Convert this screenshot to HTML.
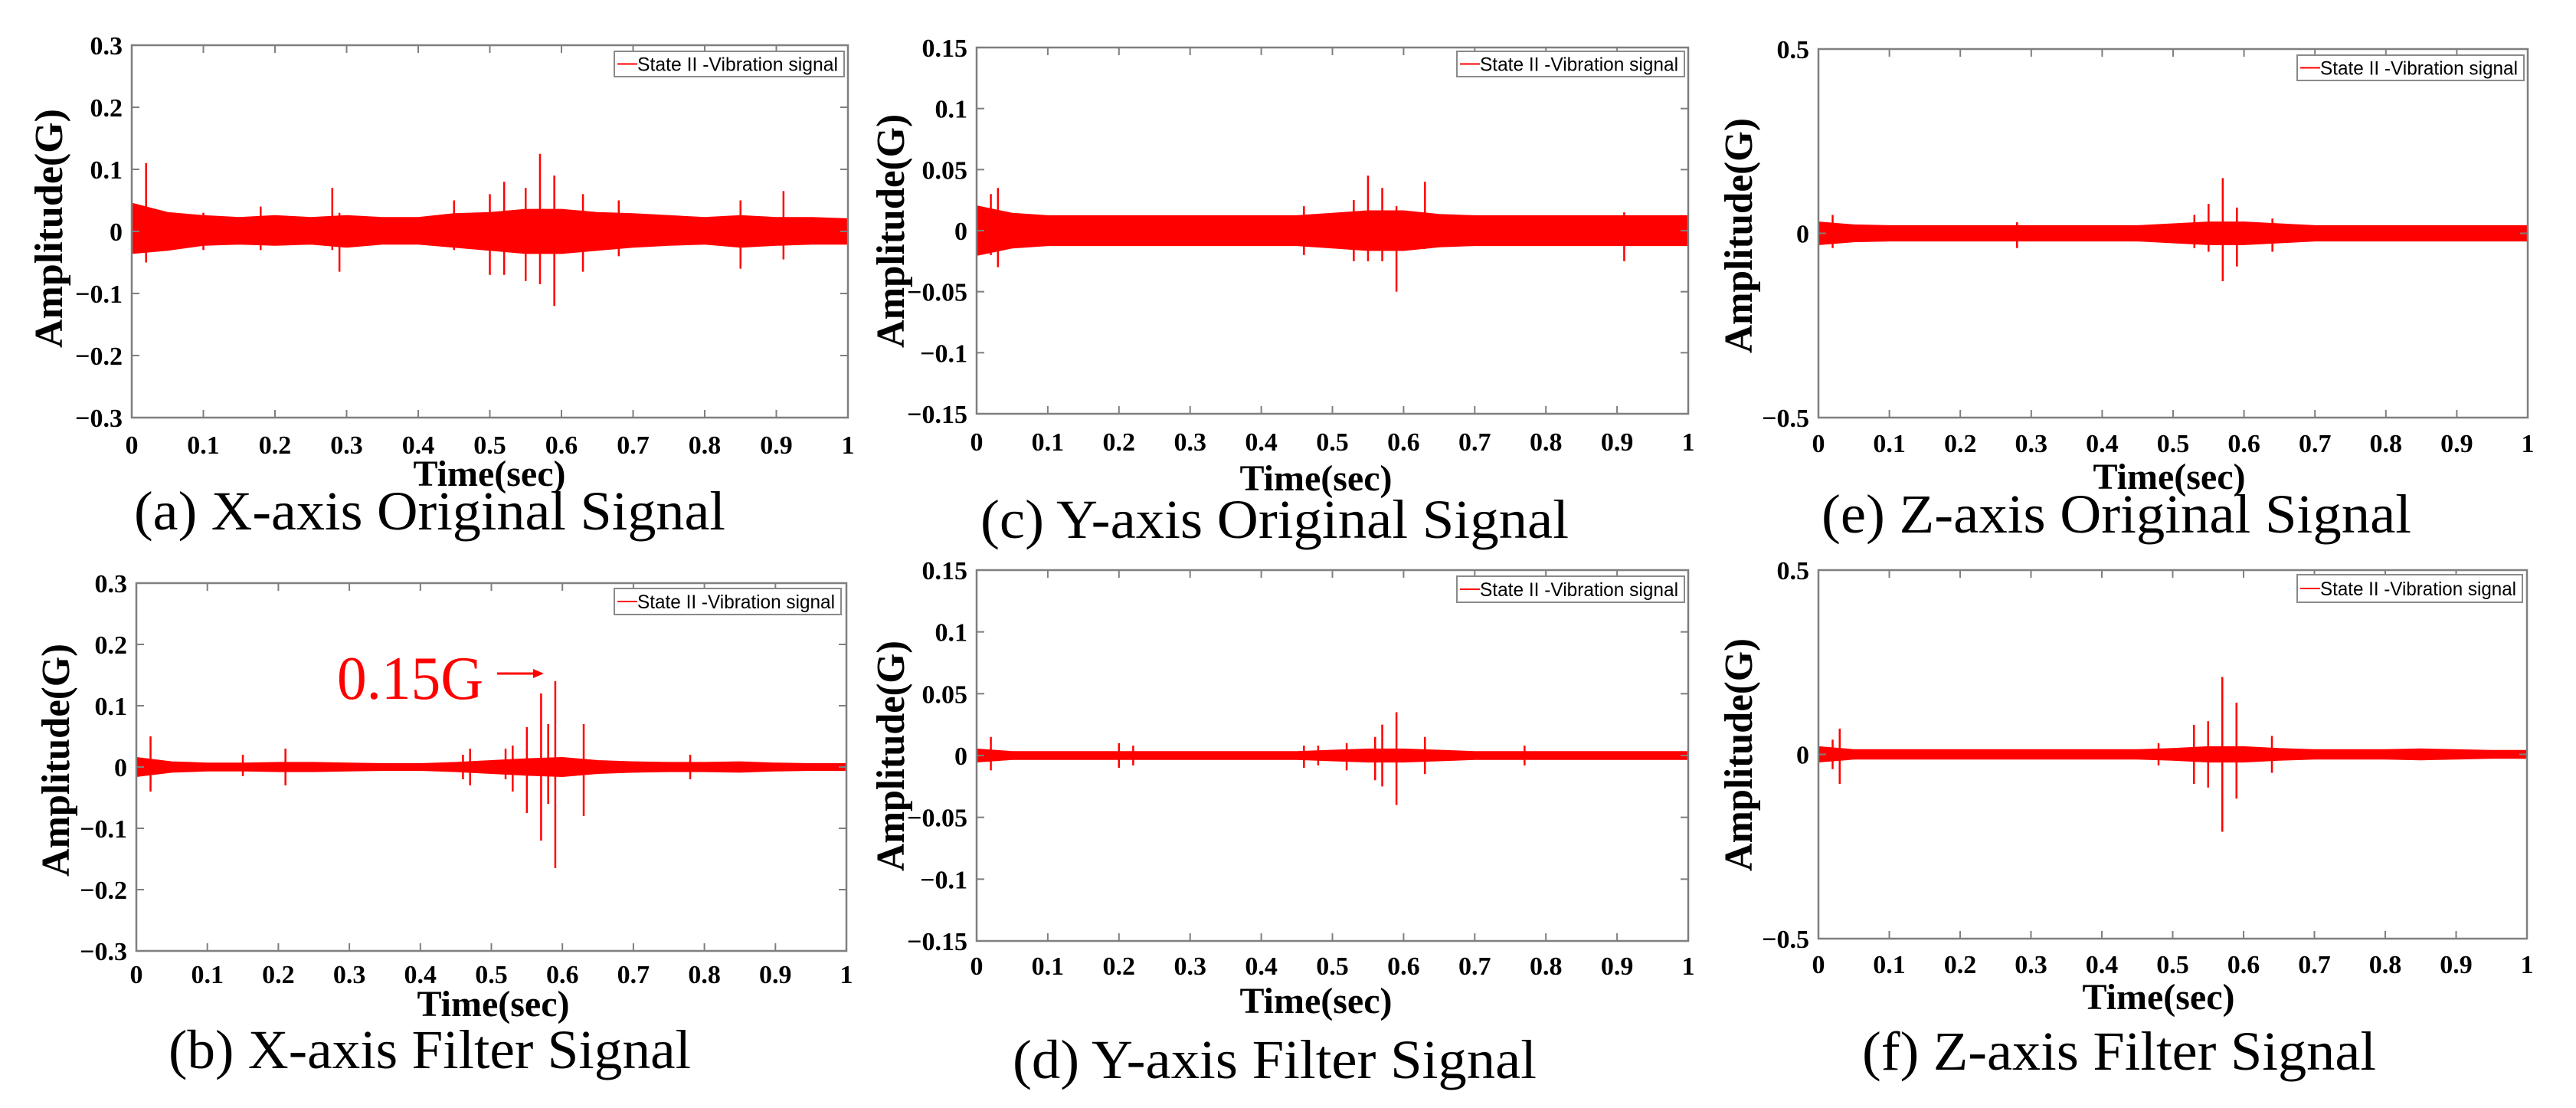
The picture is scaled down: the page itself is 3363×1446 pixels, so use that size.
<!DOCTYPE html>
<html><head><meta charset="utf-8">
<style>
html,body{margin:0;padding:0;background:#fff;}
svg{display:block;}
</style></head>
<body>
<svg id="fig" width="3363" height="1446" viewBox="0 0 3363 1446" xmlns="http://www.w3.org/2000/svg"></svg>
<script>
// ---- shared axis data ----
const xTicks = [0,0.1,0.2,0.3,0.4,0.5,0.6,0.7,0.8,0.9,1];
const xTickLabels = ['0','0.1','0.2','0.3','0.4','0.5','0.6','0.7','0.8','0.9','1'];
const envT = [0,0.05,0.1,0.15,0.2,0.25,0.3,0.35,0.4,0.45,0.5,0.55,0.6,0.65,0.7,0.75,0.8,0.85,0.9,0.95,1];
const yTicksX = [0.3,0.2,0.1,0,-0.1,-0.2,-0.3];
const yTickLabelsX = ['0.3','0.2','0.1','0','\u22120.1','\u22120.2','\u22120.3'];
const yTicksY = [0.15,0.1,0.05,0,-0.05,-0.1,-0.15];
const yTickLabelsY = ['0.15','0.1','0.05','0','\u22120.05','\u22120.1','\u22120.15'];
const yTicksZ = [0.5,0,-0.5];
const yTickLabelsZ = ['0.5','0','\u22120.5'];

// ---- (a) X original ----
const envHiA = [0.045,0.03,0.025,0.022,0.025,0.022,0.025,0.022,0.022,0.028,0.03,0.035,0.035,0.03,0.028,0.025,0.022,0.025,0.022,0.022,0.02];
const envLoA = [-0.035,-0.03,-0.022,-0.02,-0.022,-0.02,-0.025,-0.02,-0.02,-0.025,-0.03,-0.035,-0.035,-0.03,-0.025,-0.022,-0.02,-0.025,-0.022,-0.02,-0.02];
const spikeTA = [0.02,0.1,0.18,0.28,0.29,0.45,0.5,0.52,0.55,0.57,0.59,0.63,0.68,0.85,0.91];
const spikeHiA = [0.11,0.03,0.04,0.07,0.03,0.05,0.06,0.08,0.07,0.125,0.09,0.06,0.05,0.05,0.065];
const spikeLoA = [-0.05,-0.03,-0.03,-0.03,-0.065,-0.03,-0.07,-0.07,-0.08,-0.085,-0.12,-0.065,-0.04,-0.06,-0.045];
// ---- (b) X filter ----
const envHiB = [0.015,0.008,0.006,0.006,0.007,0.007,0.006,0.005,0.005,0.007,0.01,0.013,0.015,0.01,0.008,0.007,0.007,0.008,0.006,0.005,0.005];
const envLoB = [-0.015,-0.008,-0.006,-0.006,-0.007,-0.007,-0.006,-0.005,-0.005,-0.007,-0.01,-0.013,-0.015,-0.01,-0.008,-0.007,-0.007,-0.008,-0.006,-0.005,-0.005];
const spikeTB = [0.02,0.15,0.21,0.46,0.47,0.52,0.53,0.55,0.57,0.58,0.59,0.63,0.78];
const spikeHiB = [0.05,0.02,0.03,0.02,0.03,0.03,0.035,0.065,0.12,0.07,0.14,0.07,0.02];
const spikeLoB = [-0.04,-0.015,-0.03,-0.02,-0.03,-0.02,-0.04,-0.075,-0.12,-0.06,-0.165,-0.08,-0.02];
// ---- (c) Y original ----
const envHiC = [0.02,0.014,0.012,0.012,0.012,0.012,0.012,0.012,0.012,0.012,0.014,0.016,0.016,0.013,0.012,0.012,0.012,0.012,0.012,0.012,0.012];
const envLoC = [-0.02,-0.014,-0.012,-0.012,-0.012,-0.012,-0.012,-0.012,-0.012,-0.012,-0.014,-0.016,-0.016,-0.013,-0.012,-0.012,-0.012,-0.012,-0.012,-0.012,-0.012];
const spikeTC = [0.02,0.03,0.46,0.53,0.55,0.57,0.59,0.63,0.91];
const spikeHiC = [0.03,0.035,0.02,0.025,0.045,0.035,0.02,0.04,0.015];
const spikeLoC = [-0.02,-0.03,-0.02,-0.025,-0.025,-0.025,-0.05,-0.015,-0.025];
// ---- (d) Y filter ----
const envHiD = [0.005,0.003,0.003,0.003,0.003,0.003,0.003,0.003,0.003,0.003,0.004,0.005,0.005,0.004,0.003,0.003,0.003,0.003,0.003,0.003,0.003];
const envLoD = [-0.005,-0.003,-0.003,-0.003,-0.003,-0.003,-0.003,-0.003,-0.003,-0.003,-0.004,-0.005,-0.005,-0.004,-0.003,-0.003,-0.003,-0.003,-0.003,-0.003,-0.003];
const spikeTD = [0.02,0.2,0.22,0.46,0.48,0.52,0.56,0.57,0.59,0.63,0.77];
const spikeHiD = [0.015,0.01,0.008,0.008,0.008,0.01,0.015,0.025,0.035,0.015,0.008];
const spikeLoD = [-0.012,-0.01,-0.008,-0.01,-0.008,-0.012,-0.02,-0.025,-0.04,-0.015,-0.008];
// ---- (e) Z original ----
const envHiE = [0.03,0.022,0.02,0.02,0.02,0.02,0.02,0.02,0.02,0.02,0.025,0.03,0.03,0.025,0.02,0.02,0.02,0.02,0.02,0.02,0.02];
const envLoE = [-0.03,-0.022,-0.02,-0.02,-0.02,-0.02,-0.02,-0.02,-0.02,-0.02,-0.025,-0.03,-0.03,-0.025,-0.02,-0.02,-0.02,-0.02,-0.02,-0.02,-0.02];
const spikeTE = [0.02,0.28,0.53,0.55,0.57,0.59,0.64];
const spikeHiE = [0.05,0.03,0.05,0.08,0.15,0.07,0.04];
const spikeLoE = [-0.04,-0.04,-0.04,-0.05,-0.13,-0.09,-0.05];
// ---- (f) Z filter ----
const envHiF = [0.02,0.012,0.012,0.012,0.012,0.012,0.012,0.012,0.012,0.012,0.015,0.02,0.02,0.015,0.012,0.012,0.012,0.014,0.012,0.01,0.01];
const envLoF = [-0.02,-0.012,-0.012,-0.012,-0.012,-0.012,-0.012,-0.012,-0.012,-0.012,-0.015,-0.02,-0.02,-0.015,-0.012,-0.012,-0.012,-0.014,-0.012,-0.01,-0.01];
const spikeTF = [0.02,0.03,0.48,0.53,0.55,0.57,0.59,0.64];
const spikeHiF = [0.04,0.07,0.03,0.08,0.09,0.21,0.14,0.05];
const spikeLoF = [-0.04,-0.08,-0.03,-0.08,-0.09,-0.21,-0.12,-0.05];

const NS = 'http://www.w3.org/2000/svg';
const svg = document.getElementById('fig');
function mk(tag, attrs, parent){
  const e = document.createElementNS(NS, tag);
  for (const k in attrs) e.setAttribute(k, attrs[k]);
  (parent||svg).appendChild(e);
  return e;
}

const panels = [
 {id:'a', L:172,R:1107,T:59,B:545, yMax:0.3, yT:yTicksX, yL:yTickLabelsX, hi:envHiA, lo:envLoA, sT:spikeTA, sH:spikeHiA, sL:spikeLoA,
  tickBase:592, timeX:639, timeBase:634, capX1:175, capX2:947, capBase:691, ylX:64, ylY1:142, ylY2:454, lg:[802,67,1102,100], cap:'(a) X-axis Original Signal'},
 {id:'b', L:178,R:1105,T:761,B:1241, yMax:0.3, yT:yTicksX, yL:yTickLabelsX, hi:envHiB, lo:envLoB, sT:spikeTB, sH:spikeHiB, sL:spikeLoB,
  tickBase:1283, timeX:644, timeBase:1326, capX1:220, capX2:902, capBase:1394, ylX:73, ylY1:840, ylY2:1144, lg:[802,768,1098,802], cap:'(b) X-axis Filter Signal'},
 {id:'c', L:1275,R:2204,T:62,B:540, yMax:0.15, yT:yTicksY, yL:yTickLabelsY, hi:envHiC, lo:envLoC, sT:spikeTC, sH:spikeHiC, sL:spikeLoC,
  tickBase:588, timeX:1718, timeBase:640, capX1:1280, capX2:2048, capBase:702, ylX:1163, ylY1:149, ylY2:454, lg:[1902,67,2199,100], cap:'(c) Y-axis Original Signal'},
 {id:'d', L:1275,R:2204,T:744,B:1228, yMax:0.15, yT:yTicksY, yL:yTickLabelsY, hi:envHiD, lo:envLoD, sT:spikeTD, sH:spikeHiD, sL:spikeLoD,
  tickBase:1272, timeX:1718, timeBase:1322, capX1:1322, capX2:2006, capBase:1407, ylX:1163, ylY1:836, ylY2:1137, lg:[1902,752,2199,786], cap:'(d) Y-axis Filter Signal'},
 {id:'e', L:2374,R:3300,T:64,B:545, yMax:0.5, yT:yTicksZ, yL:yTickLabelsZ, hi:envHiE, lo:envLoE, sT:spikeTE, sH:spikeHiE, sL:spikeLoE,
  tickBase:590, timeX:2832, timeBase:638, capX1:2378, capX2:3148, capBase:695, ylX:2270, ylY1:154, ylY2:461, lg:[2999,72,3295,105], cap:'(e) Z-axis Original Signal'},
 {id:'f', L:2374,R:3299,T:744,B:1225, yMax:0.5, yT:yTicksZ, yL:yTickLabelsZ, hi:envHiF, lo:envLoF, sT:spikeTF, sH:spikeHiF, sL:spikeLoF,
  tickBase:1270, timeX:2818, timeBase:1317, capX1:2431, capX2:3102, capBase:1396, ylX:2270, ylY1:833, ylY2:1137, lg:[2999,750,3293,786], cap:'(f) Z-axis Filter Signal'}
];

panels.forEach(p => {
  const g = mk('g', {});
  
  
  const xs = t => p.L + t*(p.R-p.L);
  const ys = v => (p.T+p.B)/2 - v/p.yMax*(p.B-p.T)/2;

  // signal band
  let d = '';
  envT.forEach((t,i)=>{ d += (i?'L':'M') + xs(t).toFixed(1) + ' ' + ys(p.hi[i]).toFixed(1); });
  for (let i=envT.length-1;i>=0;i--) d += 'L' + xs(envT[i]).toFixed(1) + ' ' + ys(p.lo[i]).toFixed(1);
  d += 'Z';
  const band = mk('path', {d:d, fill:'#ff0000', stroke:'#ff0000', 'stroke-width':2}, g);
  
  
  p.sT.forEach((t,i)=>{
    const s = mk('line', {x1:xs(t), x2:xs(t), y1:ys(p.sH[i]), y2:ys(p.sL[i]), stroke:'#ff0000', 'stroke-width':2.5}, g);
    
    
  });

  // frame
  const fr = mk('rect', {x:p.L, y:p.T, width:p.R-p.L, height:p.B-p.T, fill:'none', stroke:'#7f7f7f', 'stroke-width':2.5}, g);
  
  

  // x ticks
  xTicks.forEach((t,i)=>{
    mk('line', {x1:xs(t), x2:xs(t), y1:p.B, y2:p.B-10, stroke:'#7f7f7f', 'stroke-width':2}, g);
    mk('line', {x1:xs(t), x2:xs(t), y1:p.T, y2:p.T+10, stroke:'#7f7f7f', 'stroke-width':2}, g);
    const tl = mk('text', {x:xs(t), y:p.tickBase, 'text-anchor':'middle', 'font-family':'"Liberation Serif", serif', 'font-weight':'bold', 'font-size':34, fill:'#000'}, g);
    tl.textContent = xTickLabels[i];
    
    
  });
  // y ticks
  p.yT.forEach((v,i)=>{
    mk('line', {x1:p.L, x2:p.L+10, y1:ys(v), y2:ys(v), stroke:'#7f7f7f', 'stroke-width':2}, g);
    mk('line', {x1:p.R, x2:p.R-10, y1:ys(v), y2:ys(v), stroke:'#7f7f7f', 'stroke-width':2}, g);
    const tl = mk('text', {x:p.L-12, y:ys(v)+12, 'text-anchor':'end', 'font-family':'"Liberation Serif", serif', 'font-weight':'bold', 'font-size':34, fill:'#000'}, g);
    tl.textContent = p.yL[i];
    
    
  });

  // x axis title
  const xt = mk('text', {x:p.timeX, y:p.timeBase, 'text-anchor':'middle', 'font-family':'"Liberation Serif", serif', 'font-weight':'bold', 'font-size':48, fill:'#000'}, g);
  xt.textContent = 'Time(sec)';
  
  

  // y axis title
  const cy = (p.ylY1+p.ylY2)/2, len = p.ylY2-p.ylY1;
  const yt = mk('text', {x:0, y:0, 'text-anchor':'middle', 'font-family':'"Liberation Serif", serif', 'font-weight':'bold', 'font-size':52, fill:'#000',
    textLength:len, lengthAdjust:'spacingAndGlyphs', transform:'translate(' + (p.ylX+17) + ',' + cy + ') rotate(-90)'}, g);
  yt.textContent = 'Amplitude(G)';
  
  

  // legend
  const lg = p.lg;
  const lgG = mk('g', {}, g);
  
  
  mk('rect', {x:lg[0], y:lg[1], width:lg[2]-lg[0], height:lg[3]-lg[1], fill:'#fff', stroke:'#8a8a8a', 'stroke-width':2}, lgG);
  const my = (lg[1]+lg[3])/2;
  mk('line', {x1:lg[0]+4, x2:lg[0]+30, y1:my, y2:my, stroke:'#ff0000', 'stroke-width':2}, lgG);
  const lt = mk('text', {x:lg[0]+30, y:my+9, 'font-family':'"Liberation Sans", sans-serif', 'font-size':25, fill:'#000',
    textLength:(lg[2]-lg[0]-38), lengthAdjust:'spacingAndGlyphs'}, lgG);
  lt.textContent = 'State II -Vibration signal';
  
  

  // caption
  const cp = mk('text', {x:p.capX1, y:p.capBase, 'font-family':'"Liberation Serif", serif', 'font-size':72, fill:'#000',
    textLength:(p.capX2-p.capX1), lengthAdjust:'spacingAndGlyphs'}, g);
  cp.textContent = p.cap;
  
  
});

// annotation on panel b
const ann = mk('text', {x:440, y:912, 'font-family':'"Liberation Serif", serif', 'font-size':80, fill:'#ff0000', textLength:191, lengthAdjust:'spacingAndGlyphs'});
ann.textContent = '0.15G';


const arr = mk('line', {x1:649, x2:700, y1:879, y2:879, stroke:'#ff0000', 'stroke-width':3});


const ah = mk('polygon', {points:'710,879 696,873 696,885', fill:'#ff0000'});


</script>
</body></html>
